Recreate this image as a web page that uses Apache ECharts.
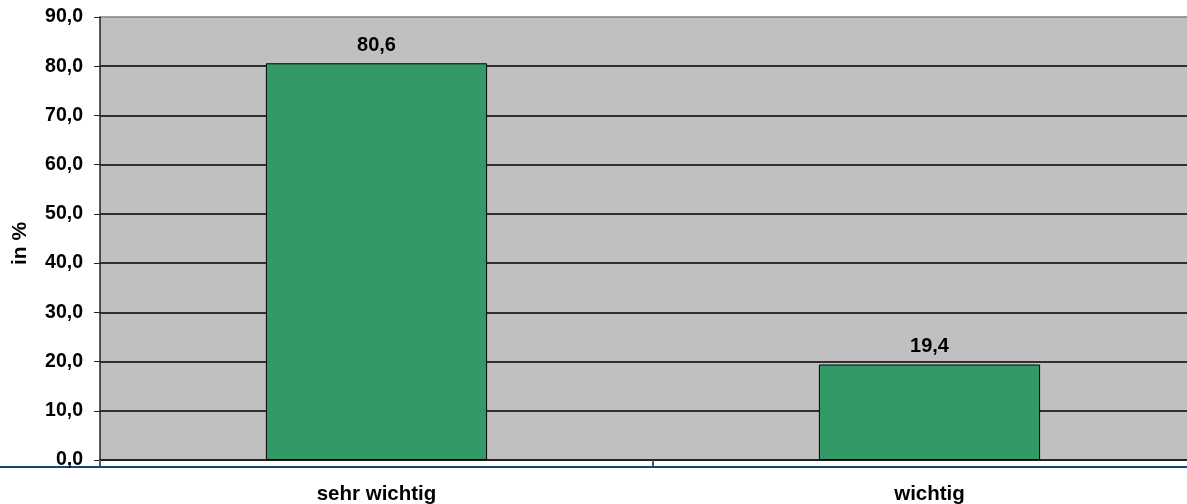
<!DOCTYPE html>
<html>
<head>
<meta charset="utf-8">
<script src="https://cdn.jsdelivr.net/npm/echarts@6/dist/echarts.min.js"></script>
<style>
  html, body { margin: 0; padding: 0; background: #fff; }
  #chart { width: 1187px; height: 504px; }
</style>
</head>
<body>
<div id="chart"></div>
<script>
// categories and values
const categories = ['sehr wichtig', 'wichtig'];
const values = [80.6, 19.4];
const yTicks = [0, 10, 20, 30, 40, 50, 60, 70, 80, 90];

const fmt = v => Number(v).toFixed(1).replace('.', ',');
const font = '"Liberation Sans", Arial, sans-serif';

// split lines are black, the one at the top is the grey frame
const splitColors = yTicks.map((t, i) => i === yTicks.length - 1 ? '#808080' : '#000');

const chart = echarts.init(document.getElementById('chart'));
chart.setOption({
  animation: false,
  grid: {
    left: 100,
    top: 17,
    width: 1106,
    bottom: 44,
    show: true,
    backgroundColor: '#c0c0c0',
    borderWidth: 0,
    containLabel: false,
    outerBoundsMode: 'none'
  },
  xAxis: {
    type: 'category',
    data: categories,
    axisLine: { lineStyle: { color: '#222', width: 2 } },
    axisTick: { show: true, length: 6, lineStyle: { color: '#555', width: 2 } },
    axisLabel: {
      margin: 24,
      color: '#000',
      fontWeight: 'bold',
      fontSize: 20.5,
      fontFamily: font
    }
  },
  yAxis: {
    type: 'value',
    min: 0,
    max: 90,
    interval: 10,
    name: 'in %',
    nameLocation: 'middle',
    nameGap: 69,
    nameRotate: 90,
    nameTextStyle: { color: '#000', fontWeight: 'bold', fontSize: 21, fontFamily: font, padding: [0, 10, 0, 0] },
    axisLine: { show: true, lineStyle: { color: '#222', width: 1.5 } },
    axisTick: { show: true, length: 6, lineStyle: { color: '#222' } },
    splitLine: { show: true, lineStyle: { color: splitColors, width: 1.5 } },
    axisLabel: {
      margin: 17,
      color: '#000',
      fontWeight: 'bold',
      fontSize: 19.5,
      fontFamily: font,
      formatter: fmt
    }
  },
  series: [{
    type: 'bar',
    data: values,
    barWidth: '40%',
    itemStyle: { color: '#339966', borderColor: '#000', borderWidth: 1 },
    label: {
      show: true,
      position: 'top',
      distance: 8,
      color: '#000',
      fontWeight: 'bold',
      fontSize: 20,
      fontFamily: font,
      formatter: p => fmt(p.value)
    }
  }],
  graphic: [{
    type: 'line',
    shape: { x1: 0, y1: 467, x2: 1187, y2: 467 },
    style: { stroke: '#17457a', lineWidth: 2 }
  }]
});
</script>
</body>
</html>
